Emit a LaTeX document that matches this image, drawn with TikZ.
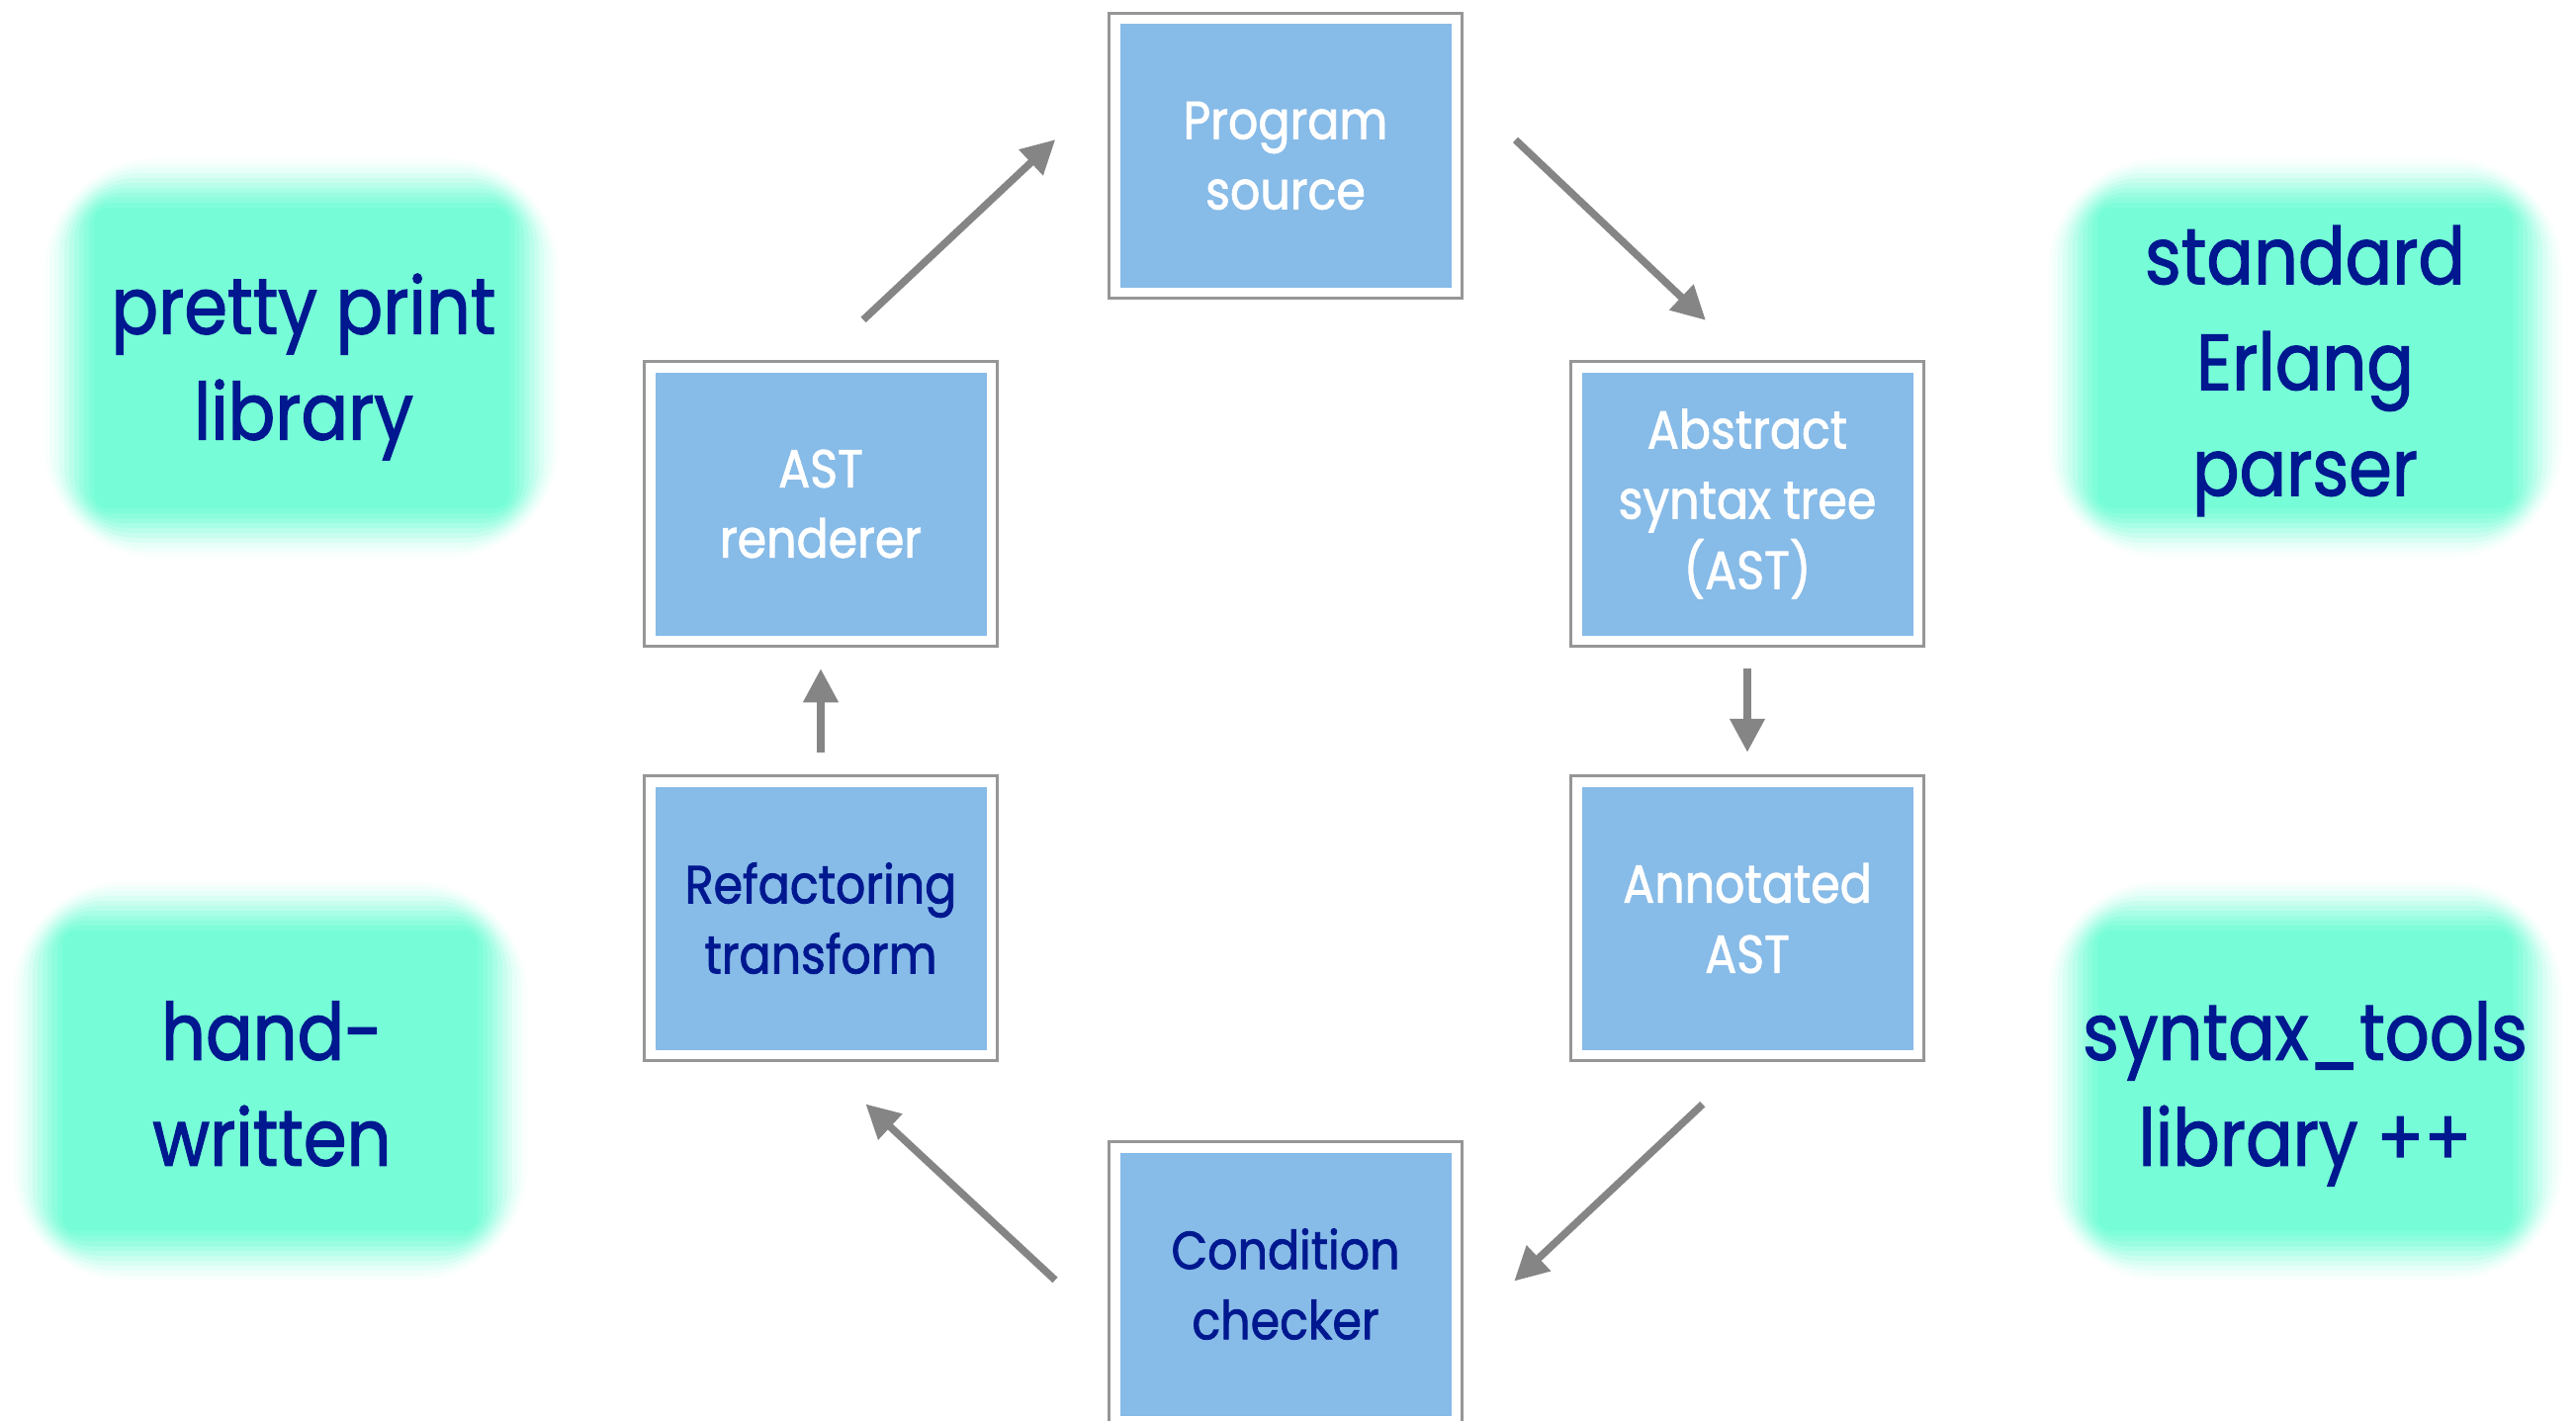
\documentclass[tikz,border=0pt]{standalone}
\usepackage{fontspec}
\setmainfont[FakeStretch=0.88,FakeBold=1.5]{Poppins}
\usepackage{xcolor}
\definecolor{rfblue}{RGB}{135,187,232}
\definecolor{rfnavy}{RGB}{0,24,143}
\definecolor{rfgreen}{RGB}{118,253,215}
\definecolor{rfframe}{RGB}{150,150,150}
\definecolor{rfarrow}{RGB}{133,133,133}
\usetikzlibrary{arrows.meta}
\newcommand{\blufont}{\fontsize{54}{71}\selectfont}
\newcommand{\grnfont}{\fontsize{80}{107}\selectfont}
\newcommand{\glowbox}[2]{\foreach \d/\k [evaluate=\d as \r using 14+2*\d] in {50/4,45/10,40/18,35/28,30/39,25/51,20/63,15/74,10/84,5/93,0/100}{
  \fill[rfgreen!\k!white,rounded corners=\r pt] (#1-210-\d,#2-152-\d) rectangle (#1+210+\d,#2+152+\d);}}

\begin{document}
\begin{tikzpicture}[x=1pt,y=-1pt,
  stage/.style={draw=rfframe,line width=3.5pt,fill=white,minimum width=357pt,minimum height=288pt,
    inner sep=0pt,align=center,text=white,font=\blufont,
    path picture={\fill[rfblue] ([shift={(11pt,-11pt)}]path picture bounding box.north west)
      rectangle ([shift={(-11pt,11pt)}]path picture bounding box.south east);}},
  stage dark/.style={stage,text=rfnavy},
  lib/.style={align=center,text=rfnavy,font=\grnfont,inner sep=0pt},
  flow/.style={draw=rfarrow,line width=7.5pt,-{Triangle[length=34pt,width=34pt]}}]
\useasboundingbox (0,0) rectangle (2605,1437);
\clip (0,0) rectangle (2605,1437);
% ---- libraries round the cycle ----
\glowbox{305}{362}
\glowbox{2331}{362}
\glowbox{273}{1093}
\glowbox{2331}{1093}
\node[lib] (pp) at (307,371) {pretty print\\library};
\node[lib] (erl) at (2331,375) {standard\\Erlang\\parser};
\node[lib] (hand) at (275,1096) {hand-\\written};
\node[lib] (stx) at (2331,1106) {syntax\_tools\\library ++};
% ---- refactoring cycle ----
\node[stage] (src) at (1300,157.5) {Program\\source};
\node[stage] (ast) at (1767,509.5) {Abstract\\syntax tree\\(AST)};
\node[stage] (ann) at (1767,928.5) {Annotated\\AST};
\node[stage dark] (cond) at (1300,1298.5) {Condition\\checker};
\node[stage dark] (ref) at (830,928.5) {Refactoring\\transform};
\node[stage] (ren) at (830,509.5) {AST\\renderer};
% arrows
\draw[flow,shorten <=72pt,shorten >=58pt] (src.20) -- (ast.north);
\draw[flow,shorten <=21pt,shorten >=22pt] (ast.south) -- (ann.north);
\draw[flow,shorten <=62pt,shorten >=70pt] (ann.south) -- (cond.346);
\draw[flow,shorten <=72pt,shorten >=62pt] (cond.194) -- (ref.south);
\draw[flow,shorten <=22pt,shorten >=21pt] (ref.north) -- (ren.south);
\draw[flow,shorten <=59pt,shorten >=72pt] (ren.north) -- (src.160);
\end{tikzpicture}
\end{document}
